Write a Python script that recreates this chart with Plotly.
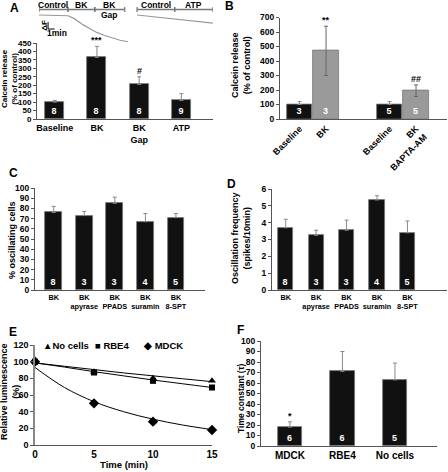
import plotly.graph_objects as go

W, H = 448, 472
FONT = "Liberation Sans, Arial, sans-serif"

# ---------------- Panel A data ----------------
a_protocol_labels = ["Control", "BK", "BK", "Control", "ATP"]
a_protocol_sublabels = ["", "", "Gap", "", ""]
a_protocol_start = [0, 4.46, 8.6, 15.1, 20.9]
a_protocol_end = [4.46, 8.6, 13.2, 20.9, 26.8]
a_trace1_time = [0, 2, 4, 4.5, 5.5, 6.8, 8, 8.9, 10, 11.4, 12.5, 13.7]
a_trace1_f = [1.0, 0.99, 0.98, 0.97, 0.85, 0.62, 0.45, 0.33, 0.22, 0.10, 0.03, -0.03]
a_trace2_time = [15.1, 18, 21, 24, 26.8]
a_trace2_f = [1.0, 0.93, 0.85, 0.77, 0.69]
a_cats = ["Baseline", "BK", "BK<br>Gap", "ATP"]
a_vals = [100, 365, 205, 110]
a_err = [10, 65, 45, 40]
a_n = ["8", "8", "8", "9"]
a_sig = ["", "***", "#", ""]

# ---------------- Panel B data ----------------
b_cats = ["Baseline", "BK", "Baseline", "BK<br>BAPTA-AM"]
b_vals = [100, 470, 100, 195]
b_err = [20, 170, 20, 40]
b_n = ["3", "3", "5", "5"]
b_sig = ["", "**", "", "##"]
b_treated = [False, True, False, True]

# ---------------- Panel C data ----------------
c_cats = ["BK", "BK<br>apyrase", "BK<br>PPADS", "BK<br>suramin", "BK<br>8-SPT"]
c_vals = [76, 73, 85, 67, 71]
c_err = [6, 4, 6, 8, 4]
c_n = ["8", "3", "3", "4", "5"]

# ---------------- Panel D data ----------------
d_cats = ["BK", "BK<br>apyrase", "BK<br>PPADS", "BK<br>suramin", "BK<br>8-SPT"]
d_vals = [3.7, 3.25, 3.55, 5.35, 3.4]
d_err = [0.5, 0.3, 0.6, 0.25, 0.7]
d_n = ["8", "3", "3", "4", "5"]

# ---------------- Panel E data ----------------
e_series = ["No cells", "RBE4", "MDCK"]
e_symbols = ["▲", "■", "◆"]
e_time = [0, 5, 10, 15]
e_nocells = [100, 88, 80, 77]
e_rbe4 = [100, 87, 77, 69]
e_mdck = [100, 50, 28, 18]
e_fit_time = [0, 2.5, 5, 7.5, 10, 12.5, 15]
e_fit_nocells = [98.5, 94.5, 90.5, 86.5, 83, 79.5, 76]
e_fit_rbe4 = [98.5, 93.5, 88, 83, 78, 73.5, 69]
e_fit_mdck = [93, 69, 52, 40, 31, 24, 18.5]

# ---------------- Panel F data ----------------
f_cats = ["MDCK", "RBE4", "No cells"]
f_vals = [18, 71, 63]
f_err = [5, 19, 16]
f_n = ["6", "6", "5"]
f_sig = ["*", "", ""]


def dx(l, r):
    return [l / W, r / W]


def dy(t, b):
    return [1 - b / H, 1 - t / H]


def py(p):
    return 1 - p / H


BLACK = "#111111"
GREY_BAR = "#9a9a9a"
ERR = "#888888"
AX = "#555555"


def tf(size, family=FONT):
    return dict(family=family, size=size, color="black", weight="bold")


numfont = dict(family=FONT, size=9, color="white", weight="bold")

fig = go.Figure()
annotations = []
shapes = []


def bar(x, y, err, n, color, xa, ya, sym=False, width=0.45, errcolor=ERR):
    fig.add_trace(go.Bar(
        x=x, y=y, width=width, xaxis=xa, yaxis=ya,
        marker=dict(color=color, line=dict(color="#777777", width=0.8)),
        text=n, textposition="inside", insidetextanchor="start", textangle=0,
        constraintext="none", textfont=numfont,
        error_y=dict(type="data", array=err,
                     arrayminus=(err if sym else [0] * len(err)),
                     symmetric=sym, color=errcolor, thickness=1, width=2),
        showlegend=False, hoverinfo="skip",
    ))


def sig(x, y, e, s, xr, yr):
    for xi, yi, ei, si in zip(x, y, e, s):
        if si:
            annotations.append(dict(x=xi, y=yi + ei, xref=xr, yref=yr, text=si,
                                    showarrow=False, yanchor="bottom", yshift=-1,
                                    font=tf(9)))


# ---- A: traces ----
fig.add_trace(go.Scatter(x=a_trace1_time, y=a_trace1_f, mode="lines", xaxis="x2", yaxis="y2",
                         line=dict(color="#999999", width=1.2), showlegend=False, hoverinfo="skip"))
fig.add_trace(go.Scatter(x=a_trace2_time, y=a_trace2_f, mode="lines", xaxis="x2", yaxis="y2",
                         line=dict(color="#999999", width=1.2), showlegend=False, hoverinfo="skip"))
for lab, sub, s, e in zip(a_protocol_labels, a_protocol_sublabels, a_protocol_start, a_protocol_end):
    shapes.append(dict(type="line", xref="x2", yref="paper", x0=s, x1=e, y0=py(9.5), y1=py(9.5),
                       line=dict(color="#777777", width=1.5)))
    for xv in (s, e):
        shapes.append(dict(type="line", xref="x2", yref="paper", x0=xv, x1=xv, y0=py(7), y1=py(12),
                           line=dict(color="#777777", width=1.2)))
    annotations.append(dict(x=(s + e) / 2, y=py(4.5), xref="x2", yref="paper", text=lab, showarrow=False,
                            xanchor="center", yanchor="middle", font=tf(8.5)))
    if sub:
        annotations.append(dict(x=(s + e) / 2, y=py(15.5), xref="x2", yref="paper", text=sub, showarrow=False,
                                xanchor="center", yanchor="middle", font=tf(8.5)))
# scale bar
sb_t, sb_f, sb_df = 1.4, 0.46, 0.27
shapes.append(dict(type="line", xref="x2", yref="y2", x0=sb_t, x1=sb_t, y0=sb_f, y1=sb_f + sb_df,
                   line=dict(color="black", width=1)))
shapes.append(dict(type="line", xref="x2", yref="y2", x0=sb_t, x1=sb_t + 1, y0=sb_f, y1=sb_f,
                   line=dict(color="black", width=1)))
annotations.append(dict(x=sb_t - 0.6, y=sb_f + sb_df / 2, xref="x2", yref="y2", text="ΔF", textangle=-90,
                        xanchor="center", yanchor="middle", showarrow=False, font=tf(8)))
annotations.append(dict(x=sb_t + 1.4, y=0.29, xref="x2", yref="y2", text="1min",
                        xanchor="center", yanchor="middle", showarrow=False, font=tf(8.5)))

# ---- A bars ----
bar(a_cats, a_vals, a_err, a_n, BLACK, "x", "y")
sig(a_cats, a_vals, a_err, a_sig, "x", "y")

# ---- B bars ----
GAP = 2.4
b_pos = [0, 1, 1 + GAP, 2 + GAP]
for treated, color in ((False, BLACK), (True, GREY_BAR)):
    idx = [i for i in range(4) if b_treated[i] == treated]
    bar([b_pos[i] for i in idx], [b_vals[i] for i in idx], [b_err[i] for i in idx],
        [b_n[i] for i in idx], color, "x3", "y3", sym=treated, width=0.97,
        errcolor=("#666666" if treated else ERR))
sig(b_pos, b_vals, b_err, b_sig, "x3", "y3")

# ---- C, D bars ----
bar(c_cats, c_vals, c_err, c_n, BLACK, "x4", "y4", width=0.55)
bar(d_cats, d_vals, d_err, d_n, BLACK, "x5", "y5", width=0.5)

# ---- E ----
for fit in (e_fit_nocells, e_fit_rbe4, e_fit_mdck):
    fig.add_trace(go.Scatter(x=e_fit_time, y=fit, mode="lines", line=dict(color="black", width=1, shape="spline"),
                             xaxis="x6", yaxis="y6", showlegend=False, hoverinfo="skip"))
for name, vals, sym, size in zip(e_series, (e_nocells, e_rbe4, e_mdck),
                                 ("triangle-up", "square", "diamond"), (7, 6, 8)):
    fig.add_trace(go.Scatter(x=e_time, y=vals, mode="markers", name=name,
                             marker=dict(symbol=sym, size=size, color="black"),
                             xaxis="x6", yaxis="y6", cliponaxis=False, showlegend=False))
# legend row for E (symbol + name)
for (name, glyph), xpx in zip(zip(e_series, e_symbols), (41, 93, 141)):
    annotations.append(dict(x=xpx / W, y=py(345), xref="paper", yref="paper",
                            text=glyph + ("" if name == "No cells" else " ") + name,
                            showarrow=False, xanchor="left", yanchor="middle", font=tf(9.5)))

# ---- F ----
bar(f_cats, f_vals, f_err, f_n, BLACK, "x7", "y7", width=0.46)
sig(f_cats, f_vals, f_err, f_sig, "x7", "y7")


def yax(domain, rng, dtick, **kw):
    d = dict(domain=domain, range=rng, dtick=dtick, showline=True, linecolor=AX, linewidth=1,
             showgrid=False, zeroline=False, ticks="outside", ticklen=3, tickcolor=AX,
             tickfont=tf(8.5), fixedrange=True, automargin=False)
    d.update(kw)
    return d


def xax(domain, rng, anchor, **kw):
    d = dict(domain=domain, range=rng, anchor=anchor, showline=True, linecolor=AX, linewidth=1,
             showgrid=False, zeroline=False, ticks="", tickfont=tf(8.5), fixedrange=True,
             automargin=False, tickangle=0)
    d.update(kw)
    return d


layout = dict(
    width=W, height=H, margin=dict(l=0, r=0, t=0, b=0, autoexpand=False),
    paper_bgcolor="white", plot_bgcolor="white", bargap=0, showlegend=False,
    font=dict(family=FONT, color="black"),
    # A bars
    xaxis=xax(dx(37, 213), [-0.42, 3.75], "y", tickfont=tf(9)),
    yaxis=yax(dy(43, 119), [0, 450], 50, anchor="x", tickfont=tf(8)),
    # A traces
    xaxis2=dict(domain=dx(39, 213), range=[0, 26.8], anchor="y2", visible=False, fixedrange=True),
    yaxis2=dict(domain=dy(12, 45), range=[-0.154, 1.115], anchor="x2", visible=False, fixedrange=True),
    # B
    xaxis3=xax(dx(280, 447), [-0.74, 5.57], "y3", tickmode="array", tickvals=b_pos, ticktext=b_cats,
               tickangle=-45, tickfont=tf(9)),
    yaxis3=yax(dy(17.5, 119), [0, 700], 100, anchor="x3"),
    # C
    xaxis4=xax(dx(35, 205), [-0.61, 4.95], "y4", tickfont=tf(7.3)),
    yaxis4=yax(dy(188, 290), [0, 100], 10, anchor="x4"),
    # D
    xaxis5=xax(dx(272, 447), [-0.45, 5.3], "y5", tickfont=tf(7.3)),
    yaxis5=yax(dy(189, 290), [0, 6], 1, anchor="x5"),
    # E
    xaxis6=xax(dx(35, 212), [0, 15], "y6", dtick=5, tickfont=tf(10)),
    yaxis6=yax(dy(345, 445), [0, 120], 20, anchor="x6", linewidth=1.5, linecolor="#888888",
               tickfont=tf(9)),
    # F
    xaxis7=xax(dx(261, 437), [-0.55, 2.8], "y7", tickfont=tf(10)),
    yaxis7=yax(dy(341, 446), [0, 100], 10, anchor="x7"),
)

# panel letters
for letter, x, y in (("A", 14, 8), ("B", 229, 6), ("C", 13, 173), ("D", 231, 184), ("E", 13, 332), ("F", 240, 330)):
    annotations.append(dict(x=x / W, y=py(y), xref="paper", yref="paper", text=letter, showarrow=False,
                            xanchor="center", yanchor="middle", font=tf(12)))

# axis titles
for text, x, y, size in (("Calcein release<br>(% of control)", 9, 79, 8),
                         ("Calcein release<br>(% of control)", 241, 65, 9),
                         ("% oscillating cells", 12, 240, 9),
                         ("Oscillation frequency<br>(spikes/10min)", 241, 238, 9),
                         ("Relative luminescence<br>(%)", 10, 392, 9),
                         ("Time constant (τ)", 241, 399, 8.5)):
    annotations.append(dict(x=x / W, y=py(y), xref="paper", yref="paper", text=text, textangle=-90,
                            xanchor="center", yanchor="middle", showarrow=False, font=tf(size)))
annotations.append(dict(x=(35 + 212) / 2 / W, y=py(464), xref="paper", yref="paper", text="Time (min)",
                        xanchor="center", yanchor="middle", showarrow=False, font=tf(9.5)))

layout["annotations"] = annotations
layout["shapes"] = shapes
fig.update_layout(**layout)
# remove the browser's default page margin so the figure sits at the window origin
fig.write_html("out.html", config={"displayModeBar": False},
               post_script="document.body.style.margin='0';")
